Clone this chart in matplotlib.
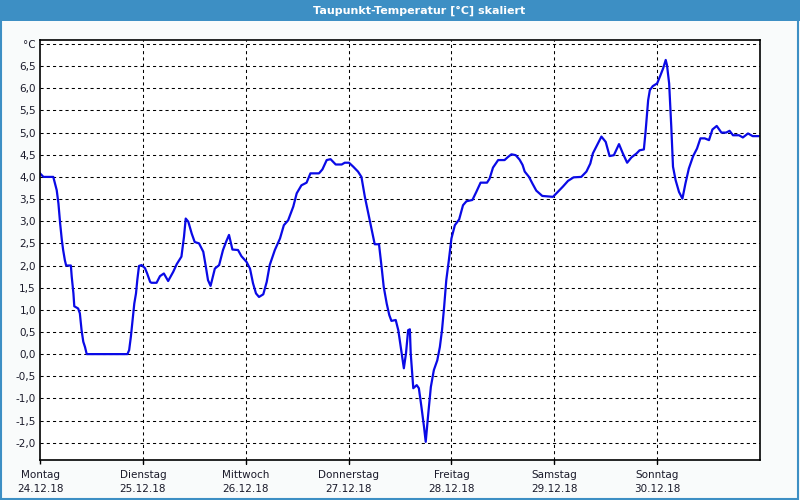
import numpy as np
import matplotlib.pyplot as plt
from matplotlib.patches import Rectangle

# hours since Monday 00:00 and dew point values (°C)
hours = [0, 0.8, 3.1, 3.9, 4.3, 4.7, 5.1, 5.4, 5.8, 6.1, 7.2, 7.4, 7.8, 8.0, 8.9, 9.3, 9.7,
         10.1, 10.5, 10.9, 20.4, 20.8, 21.2, 21.6, 22.0, 22.4, 22.7, 23.1, 23.7, 24.5, 25.0,
         25.7, 26.0, 27.2, 28.0, 28.9, 29.9, 31.1, 31.9, 33.0, 33.6, 34.0, 34.6, 35.4, 36.1,
         37.1, 38.1, 38.7, 39.2, 39.8, 40.8, 41.8, 42.7, 43.4, 44.1, 44.9, 46.2, 47.0, 48.2,
         49.0, 49.7, 50.4, 51.1, 52.1, 52.9, 53.6, 54.8, 56.0, 56.9, 57.9, 59.1, 59.9, 61.0,
         62.2, 63.1, 65.1, 65.9, 66.9, 67.8, 69.0, 70.4, 71.1, 72.1, 73.1, 74.2, 75.0, 75.8,
         76.6, 77.4, 78.1, 79.1, 79.7, 80.2, 80.9, 81.5, 82.0, 83.0, 83.6, 84.0, 84.4, 84.9,
         85.4, 85.9, 86.3, 86.5, 87.1, 87.9, 88.4, 89.0, 89.6, 90.0, 90.6, 91.2, 91.9, 92.7,
         93.3, 93.8, 94.3, 94.8, 95.4, 96.0, 96.8, 97.8, 98.7, 99.5, 100.9, 101.8, 102.8,
         104.3, 104.9, 105.7, 106.9, 108.4, 109.2, 110.0, 111.0, 111.9, 112.6, 113.1, 114.1,
         114.9, 115.8, 117.2, 119.7, 120.5, 122.0, 123.2, 124.5, 126.3, 127.5, 128.4, 129.0,
         130.0, 131.0, 132.0, 132.9, 133.9, 135.1, 136.0, 137.0, 138.0, 139.2, 139.9, 140.9,
         141.3, 141.9, 142.3, 143.0, 144.0, 144.8, 145.4, 146.0, 146.3, 146.8, 147.3, 147.7,
         148.3, 149.1, 149.9, 150.6, 151.4, 152.4, 153.3, 154.1, 155.1, 156.1, 156.9, 157.9,
         159.0, 160.1, 160.9, 161.7, 163.1, 164.0, 165.2, 166.3, 167.7]
taupunkt = [4.08, 4.0, 4.0, 3.70, 3.40, 2.95, 2.57, 2.35, 2.12, 2.0, 2.0, 1.75, 1.37, 1.08,
            1.03, 0.92, 0.54, 0.28, 0.16, 0.0, 0.0, 0.09, 0.39, 0.77, 1.14, 1.37, 1.67, 1.99,
            2.01, 1.94, 1.82, 1.63, 1.61, 1.61, 1.76, 1.82, 1.65, 1.86, 2.03, 2.20, 2.65, 3.06,
            2.99, 2.72, 2.53, 2.50, 2.31, 1.97, 1.67, 1.54, 1.93, 2.01, 2.35, 2.53, 2.69, 2.36,
            2.35, 2.21, 2.08, 1.93, 1.60, 1.37, 1.29, 1.35, 1.63, 2.01, 2.35, 2.61, 2.91, 3.02,
            3.33, 3.63, 3.81, 3.87, 4.08, 4.08, 4.17, 4.38, 4.40, 4.28, 4.28, 4.32, 4.32, 4.23,
            4.12, 4.00, 3.55, 3.18, 2.80, 2.48, 2.48, 1.97, 1.52, 1.14, 0.88, 0.75, 0.77, 0.54,
            0.28, 0.02, -0.32, 0.02, 0.54, 0.56, 0.02, -0.77, -0.70, -0.77, -1.19, -1.64, -1.98,
            -1.34, -0.74, -0.36, -0.14, 0.16, 0.54, 1.07, 1.67, 2.12, 2.61, 2.91, 3.04, 3.36,
            3.45, 3.48, 3.66, 3.87, 3.87, 3.96, 4.21, 4.38, 4.38, 4.45, 4.51, 4.49, 4.39, 4.27,
            4.12, 4.00, 3.85, 3.69, 3.57, 3.55, 3.63, 3.78, 3.91, 3.99, 4.00, 4.12, 4.30, 4.53,
            4.72, 4.91, 4.79, 4.47, 4.49, 4.74, 4.53, 4.32, 4.44, 4.53, 4.60, 4.62, 5.02, 5.73,
            5.96, 6.05, 6.11, 6.30, 6.45, 6.64, 6.52, 6.11, 5.13, 4.23, 3.93, 3.66, 3.51, 3.85,
            4.19, 4.47, 4.64, 4.87, 4.87, 4.83, 5.07, 5.15, 5.00, 5.00, 5.04, 4.94, 4.94, 4.89,
            4.98, 4.92, 4.92]

tage = ["Montag", "Dienstag", "Mittwoch", "Donnerstag", "Freitag", "Samstag", "Sonntag"]
daten = ["24.12.18", "25.12.18", "26.12.18", "27.12.18", "28.12.18", "29.12.18", "30.12.18"]
y_ticks = np.arange(-2.0, 7.01, 0.5)

plt.rcParams['font.family'] = ['DejaVu Sans']

fig = plt.figure(figsize=(8, 5), dpi=100, facecolor="#f9fbfb")
ax = fig.add_axes([0.05, 0.08, 0.9, 0.84])
ax.set_facecolor("white")

ax.plot(np.array(hours) / 24.0, taupunkt, color="#0a0ae6", lw=1.6)

ax.set_xlim(0, 7)
ax.set_ylim(-2.39, 7.09)

ax.set_yticks(y_ticks)
ylabels = [f"{v:.1f}".replace(".", ",") for v in y_ticks]
ylabels[-1] = "°C"
ax.set_yticklabels(ylabels, fontsize=7.5, color="#1a1a2a")
ax.tick_params(axis="y", length=0, pad=3)

ax.set_xticks(range(7))
ax.set_xticklabels([t + "\n" + d for t, d in zip(tage, daten)], fontsize=7.5,
                   color="#1a1a2a", linespacing=1.5)
ax.tick_params(axis="x", length=3, width=1, pad=4)

for v in y_ticks:
    ax.axhline(v, color="black", lw=0.75, linestyle=(0, (3, 3)), zorder=0.5)
for d in range(1, 7):
    ax.axvline(d, color="black", lw=0.75, linestyle=(0, (3, 3)), zorder=0.5)
# dashed day lines run a bit below the axis
for d in range(1, 7):
    ax.plot([d, d], [-2.39, -2.47], color="black", lw=0.75, clip_on=False)

for s in ax.spines.values():
    s.set_linewidth(1.2)

# title bar and window frame
fig.patches.append(Rectangle((0, 0.958), 1, 0.042, transform=fig.transFigure,
                             facecolor="#3d8fc4", edgecolor="none"))
fig.patches.append(Rectangle((0.001, 0.003), 0.997, 0.996, transform=fig.transFigure,
                             facecolor="none", edgecolor="#3d8fc4", lw=1.5))
fig.text(0.524, 0.979, "Taupunkt-Temperatur [°C] skaliert", color="white",
         fontsize=8, fontweight="bold", ha="center", va="center")

fig.savefig("out.png", dpi=100, facecolor=fig.get_facecolor())
